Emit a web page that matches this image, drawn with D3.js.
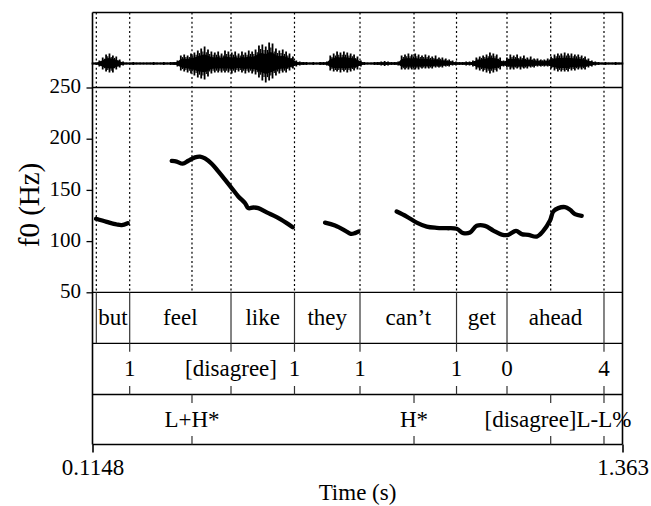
<!DOCTYPE html>
<html>
<head>
<meta charset="utf-8">
<script src="https://cdn.jsdelivr.net/npm/d3@7"></script>
<style>
  html, body { margin: 0; padding: 0; background: #fff; }
  svg { display: block; }
  svg text { font-family: "Liberation Serif", "Times New Roman", serif; }
</style>
</head>
<body>
<svg id="chart" width="651" height="506" font-family="Liberation Serif, Times New Roman, serif"></svg>
<script>
// ---------------- DATA ----------------
const timeDomain = [0.1148, 1.363];
const timeTickLabels = ["0.1148", "1.363"];
const f0Domain = [50, 250];
const f0Ticks = [50, 100, 150, 200, 250];

// waveform envelope (arbitrary amplitude units), sampled every waveStep seconds from waveStart
const waveStart = 0.1148;
const waveStep = 0.008;
const waveTop = [
  1,1,3,6,9,10,8,7,4,2,
  1,1,1.5,1,1,1,1,1,1.5,1,
  1,1.5,1,1.5,1.5,3,8,9,8,10,
  11,13,15,17,14,12,11,12,10,13,
  12,11,12,10,12,11,13,12,14,18,
  19,17,21,20,15,13,14,12,10,7,
  3,2,1.5,1.5,1,1.5,1,1.5,1.5,2,
  8,10,12,11,12,11,10,9,7,3,
  1.5,1,1,1.5,1.5,2,2.5,2,1.5,1.5,
  2,8,9,10,9,10,9,8,9,8,
  7,8,6,6,5,4,3,2,1.5,1.5,
  2,2,3,6,7,8,9,11,10,9,
  6,3,6,9,8,9,7,8,6,7,
  5,5,4,4,5,7,9,10,10,11,
  10,10,9,9,8,7,5,3,2,1.5,
  1,1.5,1,1,1.5,1,1
];
const waveBottom = [
  1,1,3,6,8,9,9,6,4,2,
  1,1,1.5,1,1,1,1,1,1.5,1,
  1,1.5,1,1.5,1.5,3,7,8,9,10,
  12,14,15,16,13,10,9,9,9,9,
  9,10,9,8,9,10,9,10,11,14,
  17,19,17,15,12,10,9,9,7,5,
  3,2,1.5,1.5,1,1.5,1,1.5,1.5,2,
  7,8,8,9,8,9,8,7,6,3,
  1.5,1,1,1.5,1.5,2,2.5,2,1.5,1.5,
  2,6,6,6,6,6,6,5,5,5,
  5,4,4,4,3,3,2,2,1.5,1.5,
  2,2,3,6,7,8,9,10,9,8,
  6,3,4,6,6,5,6,5,5,4,
  4,3,3,3,3,5,7,8,8,8,
  8,7,7,6,6,6,4,3,2,1.5,
  1,1.5,1,1,1.5,1,1
];

// f0 contour segments (time s, Hz)
const f0Times1 = [0.1230, 0.1482, 0.1718, 0.1836, 0.1977];
const f0Hz1    = [121.8, 118.8, 116.2, 115.6, 117.5];
const f0Times2 = [0.3013, 0.3131, 0.3272, 0.3404, 0.3562, 0.3680, 0.3797, 0.3955, 0.4111, 0.4268,
                  0.4426, 0.4582, 0.4740, 0.4817, 0.4935, 0.5053, 0.5251, 0.5486, 0.5722, 0.5863];
const f0Hz2    = [178.3, 177.6, 175.6, 178.5, 181.8, 182.5, 180.8, 175.6, 168.1, 160.0,
                  151.8, 143.6, 137.1, 132.2, 132.8, 132.2, 128.0, 123.4, 117.5, 113.6];
const f0Times3 = [0.6624, 0.6859, 0.7095, 0.7229, 0.7330, 0.7408];
const f0Hz3    = [118.1, 115.2, 110.3, 107.1, 107.8, 109.3];
const f0Times4 = [0.8312, 0.8548, 0.8783, 0.9019, 0.9254, 0.9490, 0.9725, 0.9881, 1.0039, 1.0196,
                  1.0392, 1.0587, 1.0785, 1.0941, 1.1122, 1.1256, 1.1412, 1.1609, 1.1751, 1.1923,
                  1.2000, 1.2118, 1.2276, 1.2394, 1.2511, 1.2669];
const f0Hz4    = [128.9, 124.0, 118.1, 114.2, 113.0, 112.6, 112.0, 107.8, 108.4, 114.9,
                  114.9, 110.3, 106.4, 106.1, 110.0, 106.8, 106.1, 104.4, 109.3, 120.1,
                  128.9, 132.2, 133.2, 130.6, 126.4, 124.7];

// Tier 1: words (interval tier)
const wordStarts = [0.1238, 0.2024, 0.4410, 0.5905, 0.7448, 0.9721, 1.0910];
const wordEnds   = [0.2024, 0.4410, 0.5905, 0.7448, 0.9721, 1.0910, 1.3194];
const wordLabels = ["but", "feel", "like", "they", "can\u2019t", "get", "ahead"];

// Tier 2: break indices (point tier)
const breakTimes  = [0.2024, 0.4410, 0.5905, 0.7448, 0.9721, 1.0910, 1.3194];
const breakLabels = ["1", "[disagree]", "1", "1", "1", "0", "4"];

// Tier 3: tones (point tier)
const toneTimes  = [0.3491, 0.8720, 1.1939, 1.3194];
const toneLabels = ["L+H*", "H*", "[disagree]", "L-L%"];

// ---------------- LAYOUT ----------------
const FONT = "Liberation Serif, Times New Roman, serif";
const L = 92.5, R = 622.5;
const waveTopY = 12.5, waveBotY = 87.5;
const pitchTopY = 87.5, pitchBotY = 292.3;
const tierY = [292.3, 343.3, 394.5, 444.5];
const tierFont = 23;

const svg = d3.select("#chart");
const x = d3.scaleLinear().domain(timeDomain).range([L, R]);
const yF = d3.scaleLinear().domain(f0Domain).range([pitchBotY, pitchTopY]);
const yW = d3.scaleLinear().domain([-24, 51]).range([waveBotY, waveTopY]);

// dotted guide lines through waveform & pitch panels
const guideTimes = Array.from(new Set([...wordStarts, ...wordEnds, ...toneTimes])).sort((a,b)=>a-b);
svg.append("g").selectAll("line").data(guideTimes).join("line")
  .attr("x1", d => x(d)).attr("x2", d => x(d))
  .attr("y1", waveTopY).attr("y2", pitchBotY)
  .attr("stroke", "#000").attr("stroke-width", 1.2)
  .attr("stroke-dasharray", "2,2.6");

// waveform: baseline + one vertical stroke per envelope sample
const waveData = waveTop.map((v, i) => ({ t: waveStart + i * waveStep, top: v, bot: -waveBottom[i] }))
  .filter(d => d.t <= timeDomain[1]);
svg.append("line").attr("x1", L).attr("x2", R).attr("y1", yW(0)).attr("y2", yW(0))
  .attr("stroke", "#000").attr("stroke-width", 2);
svg.append("path").datum(waveData)
  .attr("d", d3.area().x(d => x(d.t)).y0(d => yW(d.bot * 0.55)).y1(d => yW(d.top * 0.55)).curve(d3.curveLinear))
  .attr("fill", "#000");
svg.append("g").selectAll("line").data(waveData).join("line")
  .attr("x1", d => x(d.t)).attr("x2", d => x(d.t))
  .attr("y1", d => yW(d.bot)).attr("y2", d => yW(d.top))
  .attr("stroke", "#000").attr("stroke-width", 1.8);
svg.append("g").selectAll("line").data(waveData.slice(1)).join("line")
  .attr("x1", (d, i) => (x(d.t) + x(waveData[i].t)) / 2).attr("x2", (d, i) => (x(d.t) + x(waveData[i].t)) / 2)
  .attr("y1", (d, i) => yW(Math.max(d.bot, waveData[i].bot) * 0.8))
  .attr("y2", (d, i) => yW(Math.min(d.top, waveData[i].top) * 0.8))
  .attr("stroke", "#000").attr("stroke-width", 1.2);

// f0 contour
const segs = [[f0Times1, f0Hz1], [f0Times2, f0Hz2], [f0Times3, f0Hz3], [f0Times4, f0Hz4]];
const line = d3.line().x(d => x(d[0])).y(d => yF(d[1])).curve(d3.curveCatmullRom);
svg.append("g").selectAll("path").data(segs).join("path")
  .attr("d", s => line(s[0].map((t, i) => [t, s[1][i]])))
  .attr("fill", "none").attr("stroke", "#000").attr("stroke-width", 4.3)
  .attr("stroke-linecap", "round").attr("stroke-linejoin", "round");

// frame lines
const frame = svg.append("g").attr("stroke", "#000").attr("fill", "none");
frame.append("line").attr("x1", L).attr("x2", R).attr("y1", waveTopY).attr("y2", waveTopY).attr("stroke-width", 1.6);
frame.append("line").attr("x1", L).attr("x2", L).attr("y1", waveTopY).attr("y2", tierY[3]).attr("stroke-width", 1.6);
frame.append("line").attr("x1", R).attr("x2", R).attr("y1", waveTopY).attr("y2", tierY[3]).attr("stroke-width", 1.6);
frame.append("line").attr("x1", L).attr("x2", R).attr("y1", waveBotY).attr("y2", waveBotY).attr("stroke-width", 1.6);
tierY.slice(0, 3).forEach(y => {
  frame.append("line").attr("x1", L).attr("x2", R).attr("y1", y).attr("y2", y).attr("stroke-width", 1.3);
});

// left axis
const yAxis = svg.append("g").attr("transform", `translate(${L},0)`)
  .call(d3.axisLeft(yF).tickValues(f0Ticks).tickSize(6).tickSizeOuter(0).tickPadding(5.5));
yAxis.attr("font-family", FONT);
yAxis.select(".domain").remove();
yAxis.selectAll(".tick line").attr("stroke", "#000").attr("stroke-width", 1.3);
yAxis.selectAll(".tick text").attr("font-size", 21).attr("font-family", FONT)
  .attr("fill", "#000").attr("dy", "0.25em");

svg.append("text").attr("transform", "translate(39,205) rotate(-90)")
  .attr("text-anchor", "middle").attr("font-size", 29).attr("font-family", FONT)
  .attr("fill", "#000").text("f0 (Hz)");

// bottom axis
const xAxis = svg.append("g").attr("transform", `translate(0,${tierY[3]})`)
  .call(d3.axisBottom(x).tickValues(timeDomain).tickFormat((d, i) => timeTickLabels[i])
        .tickSize(8).tickSizeOuter(0).tickPadding(6));
xAxis.attr("font-family", FONT);
xAxis.select(".domain").attr("stroke", "#000").attr("stroke-width", 1.6).attr("d", `M${L},0H${R}`);
xAxis.selectAll(".tick line").attr("stroke", "#000").attr("stroke-width", 1.6);
xAxis.selectAll(".tick text").attr("font-size", 23).attr("font-family", FONT).attr("fill", "#000");

svg.append("text").attr("x", (L + R) / 2).attr("y", 500).attr("text-anchor", "middle")
  .attr("font-size", 23).attr("font-family", FONT).attr("fill", "#000").text("Time (s)");

// Tier 1: interval boundaries & labels
const bounds1 = Array.from(new Set([...wordStarts, ...wordEnds]));
svg.append("g").selectAll("line").data(bounds1).join("line")
  .attr("x1", d => x(d)).attr("x2", d => x(d))
  .attr("y1", tierY[0]).attr("y2", tierY[1])
  .attr("stroke", "#333").attr("stroke-width", 1.2);
const t1mid = (tierY[0] + tierY[1]) / 2;
svg.append("g").selectAll("text").data(wordLabels).join("text")
  .attr("x", (d, i) => x((wordStarts[i] + wordEnds[i]) / 2))
  .attr("y", t1mid + 7).attr("text-anchor", "middle").attr("font-family", FONT)
  .attr("font-size", tierFont).attr("fill", "#000").text(d => d);

// point tiers
function pointTier(times, labels, y0, y1) {
  const g = svg.append("g");
  const tick = 8.5;
  g.selectAll("line.top").data(times).join("line").attr("class", "top")
    .attr("x1", d => x(d)).attr("x2", d => x(d)).attr("y1", y0).attr("y2", y0 + tick)
    .attr("stroke", "#333").attr("stroke-width", 1.2);
  g.selectAll("line.bot").data(times).join("line").attr("class", "bot")
    .attr("x1", d => x(d)).attr("x2", d => x(d)).attr("y1", y1 - tick).attr("y2", y1)
    .attr("stroke", "#333").attr("stroke-width", 1.2);
  const texts = g.selectAll("text").data(labels).join("text")
    .attr("x", (d, i) => x(times[i])).attr("y", (y0 + y1) / 2 + 7).attr("font-family", FONT)
    .attr("text-anchor", "middle").attr("font-size", tierFont).attr("fill", "#000").text(d => d);
  // avoid overlaps: shift a label left so it ends where the next one starts
  const nodes = texts.nodes();
  for (let i = nodes.length - 2; i >= 0; i--) {
    const a = nodes[i].getBBox(), b = nodes[i + 1].getBBox();
    if (a.x + a.width > b.x) {
      d3.select(nodes[i]).attr("x", b.x - a.width / 2);
    }
  }
}
pointTier(breakTimes, breakLabels, tierY[1], tierY[2]);
pointTier(toneTimes, toneLabels, tierY[2], tierY[3]);
</script>
</body>
</html>
